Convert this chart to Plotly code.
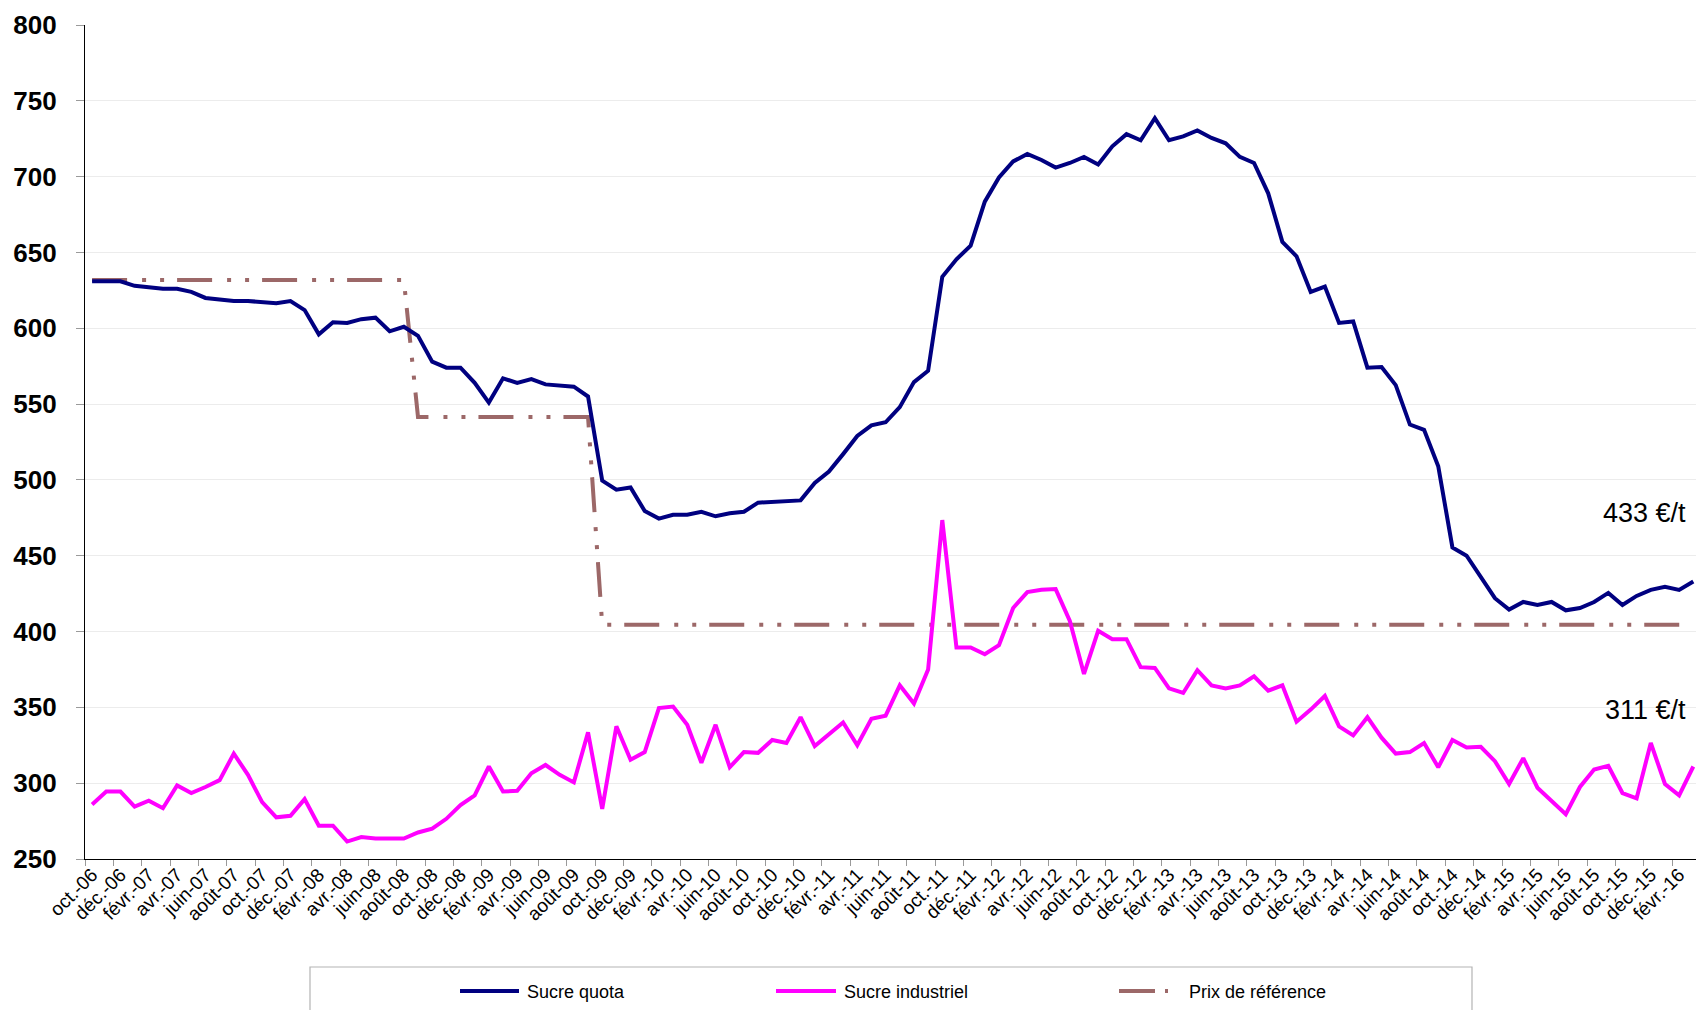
import plotly.graph_objects as go

# ---------------- data ----------------
sucre_quota = [
    631, 631, 631, 628, 627, 626, 626, 624, 620, 619,
    618, 618, 617.5, 616.5, 618, 612, 596, 604, 603.5, 606,
    607, 598, 601, 595, 578, 574, 574, 564, 551, 567,
    564, 566.5, 563, 562, 561.5, 555, 499.5, 493.5, 495, 479.5,
    474.5, 477, 477, 479, 476, 478, 479, 485, 485.5, 486.5,
    486.5, 498, 505.5, 517, 529, 536, 538, 548, 564.5, 572,
    634, 645.5, 654.5, 683.5, 699.5, 710, 715, 711, 706, 709,
    713, 708, 720, 728, 724, 738.5, 724, 726.5, 730.5, 725.5,
    722, 713, 709, 689, 657, 647.5, 624, 627.5, 603.5, 604.5,
    574, 574.5, 562.5, 536.5, 533, 509, 455.5, 450, 435.5, 422,
    414.5, 419.5, 417.5, 419.5, 414, 415.5, 419.5, 425.5, 417.5, 423.5,
    427.5, 429.5, 427.5, 433,
]

sucre_industriel = [
    286, 294.5, 294.5, 284.5, 288.5, 283.5, 298.5, 293.5, 297.5, 302,
    319.5, 305.5, 287.5, 277.5, 278.5, 289.5, 272, 272, 261.5, 264.5,
    263.5, 263.5, 263.5, 267.5, 270, 276.5, 285.5, 292, 311, 294.5,
    295, 306.5, 312, 305.5, 300.5, 333.5, 283, 337.5, 315.5, 320.5,
    349.5, 350.5, 338.5, 313.5, 338.5, 310.5, 320.5, 320, 328.5, 326.5,
    343.5, 324.5, 332.5, 340, 325, 342.5, 344.5, 364.5, 352.5, 375,
    473.5, 389.5, 389.5, 385, 391, 415.5, 426, 427.5, 428, 407,
    372, 400.5, 395, 395, 376.5, 376, 362.5, 359.5, 374.5, 364.5,
    362.5, 364.5, 370.5, 361, 364.5, 340.5, 348.5, 357.5, 337.5, 331.5,
    343.5, 330, 319.5, 320.5, 326.5, 310.5, 328.5, 323.5, 324, 314.5,
    299.5, 316.5, 297, 288, 279.5, 297.5, 309, 311.5, 293.5, 290,
    326.5, 299.5, 292, 311,
]

prix_reference = [631.9] * 23 + [541.5] * 13 + [404.4] * 78

tick_labels = [
    "oct.-06", "déc.-06", "févr.-07", "avr.-07", "juin-07", "août-07",
    "oct.-07", "déc.-07", "févr.-08", "avr.-08", "juin-08", "août-08",
    "oct.-08", "déc.-08", "févr.-09", "avr.-09", "juin-09", "août-09",
    "oct.-09", "déc.-09", "févr.-10", "avr.-10", "juin-10", "août-10",
    "oct.-10", "déc.-10", "févr.-11", "avr.-11", "juin-11", "août-11",
    "oct.-11", "déc.-11", "févr.-12", "avr.-12", "juin-12", "août-12",
    "oct.-12", "déc.-12", "févr.-13", "avr.-13", "juin-13", "août-13",
    "oct.-13", "déc.-13", "févr.-14", "avr.-14", "juin-14", "août-14",
    "oct.-14", "déc.-14", "févr.-15", "avr.-15", "juin-15", "août-15",
    "oct.-15", "déc.-15", "févr.-16",
]

series_names = ["Sucre quota", "Sucre industriel", "Prix de référence"]
end_labels = ["433 €/t", "311 €/t"]

# ---------------- styling ----------------
FONT = "Liberation Sans, Arial, sans-serif"
C_QUOTA = "#000080"
C_IND = "#FF00FF"
C_REF = "#9C6868"
REF_DASH = "35px,15px,4px,14px,4px,13px"

W, H = 1696, 1010
L, R, T, B = 85, 1696, 25, 859

def px(x):
    return (x - L) / (R - L)

def py(y):
    return (B - y) / (B - T)

n = len(sucre_quota)
xpos = list(range(n))
label_pos = list(range(0, 2 * len(tick_labels), 2))
boundary_pos = [p - 0.5 for p in label_pos]

fig = go.Figure()
fig.add_trace(go.Scatter(x=xpos, y=prix_reference, mode="lines", name=series_names[2],
                         line=dict(color=C_REF, width=4, dash=REF_DASH), showlegend=False))
fig.add_trace(go.Scatter(x=xpos, y=sucre_industriel, mode="lines", name=series_names[1],
                         line=dict(color=C_IND, width=4), showlegend=False))
fig.add_trace(go.Scatter(x=xpos, y=sucre_quota, mode="lines", name=series_names[0],
                         line=dict(color=C_QUOTA, width=4), showlegend=False))
# helper trace so the label axis is drawn
fig.add_trace(go.Scatter(x=[0, 1], y=[None, None], xaxis="x2", mode="lines",
                         showlegend=False, hoverinfo="skip"))

xr = [-0.5, -0.5 + (R - L) / 14.17]

fig.update_layout(
    width=W, height=H,
    margin=dict(l=L, r=W - R, t=T, b=H - B, pad=0, autoexpand=False),
    paper_bgcolor="white", plot_bgcolor="white",
    font=dict(family=FONT, color="black"),
    showlegend=False,
    xaxis=dict(
        range=xr, tickmode="array", tickvals=boundary_pos, showticklabels=False,
        ticks="outside", ticklen=6, tickcolor="#9a9a9a", tickwidth=1,
        showline=True, linecolor="black", linewidth=1.3,
        showgrid=False, zeroline=False, automargin=False,
    ),
    xaxis2=dict(
        range=xr, overlaying="x", anchor="y", side="bottom",
        tickmode="array", tickvals=label_pos, ticktext=tick_labels,
        tickangle=-45, ticks="", ticklen=0,
        tickfont=dict(family=FONT, size=19, color="black"),
        showline=False, showgrid=False, zeroline=False, automargin=False,
    ),
    yaxis=dict(
        range=[250, 800], tickmode="linear", tick0=250, dtick=50,
        ticks="outside", ticklen=8, tickcolor="#9a9a9a", tickwidth=1,
        ticklabelstandoff=14,
        tickfont=dict(family=FONT, size=26, color="black", weight="bold"),
        showline=True, linecolor="black", linewidth=1.3,
        showgrid=True, gridcolor="#ececec", gridwidth=1, zeroline=False,
        automargin=False,
    ),
)

# end-of-series value labels
fig.add_annotation(x=112.6, y=478, xref="x", yref="y", text=end_labels[0], showarrow=False,
                   xanchor="right", yanchor="middle", font=dict(family=FONT, size=27, color="black"))
fig.add_annotation(x=112.6, y=348, xref="x", yref="y", text=end_labels[1], showarrow=False,
                   xanchor="right", yanchor="middle", font=dict(family=FONT, size=27, color="black"))

# legend box (bottom edge runs off the page like the reference)
fig.add_shape(type="rect", xref="paper", yref="paper",
              x0=px(310), x1=px(1472), y0=py(1040), y1=py(967),
              line=dict(color="#b4b4b4", width=1.2), fillcolor="rgba(0,0,0,0)", layer="above")

legend_items = [
    (series_names[0], C_QUOTA, "solid", 460, 519, 525),
    (series_names[1], C_IND, "solid", 776, 836, 842),
    (series_names[2], C_REF, "36px,10px,3px,200px", 1119, 1172, 1187),
]
LY = 991
for name, color, dash, x0, x1, tx in legend_items:
    fig.add_shape(type="line", xref="paper", yref="paper",
                  x0=px(x0), x1=px(x1), y0=py(LY), y1=py(LY),
                  line=dict(color=color, width=4, dash=dash))
    fig.add_annotation(x=px(tx), y=py(LY + 1), xref="paper", yref="paper", text=name,
                       showarrow=False, xanchor="left", yanchor="middle",
                       font=dict(family=FONT, size=18, color="black"))

fig.write_html(
    "out.html",
    config={"displayModeBar": False},
    post_script="document.body.style.margin='0';document.body.style.overflow='hidden';",
)
